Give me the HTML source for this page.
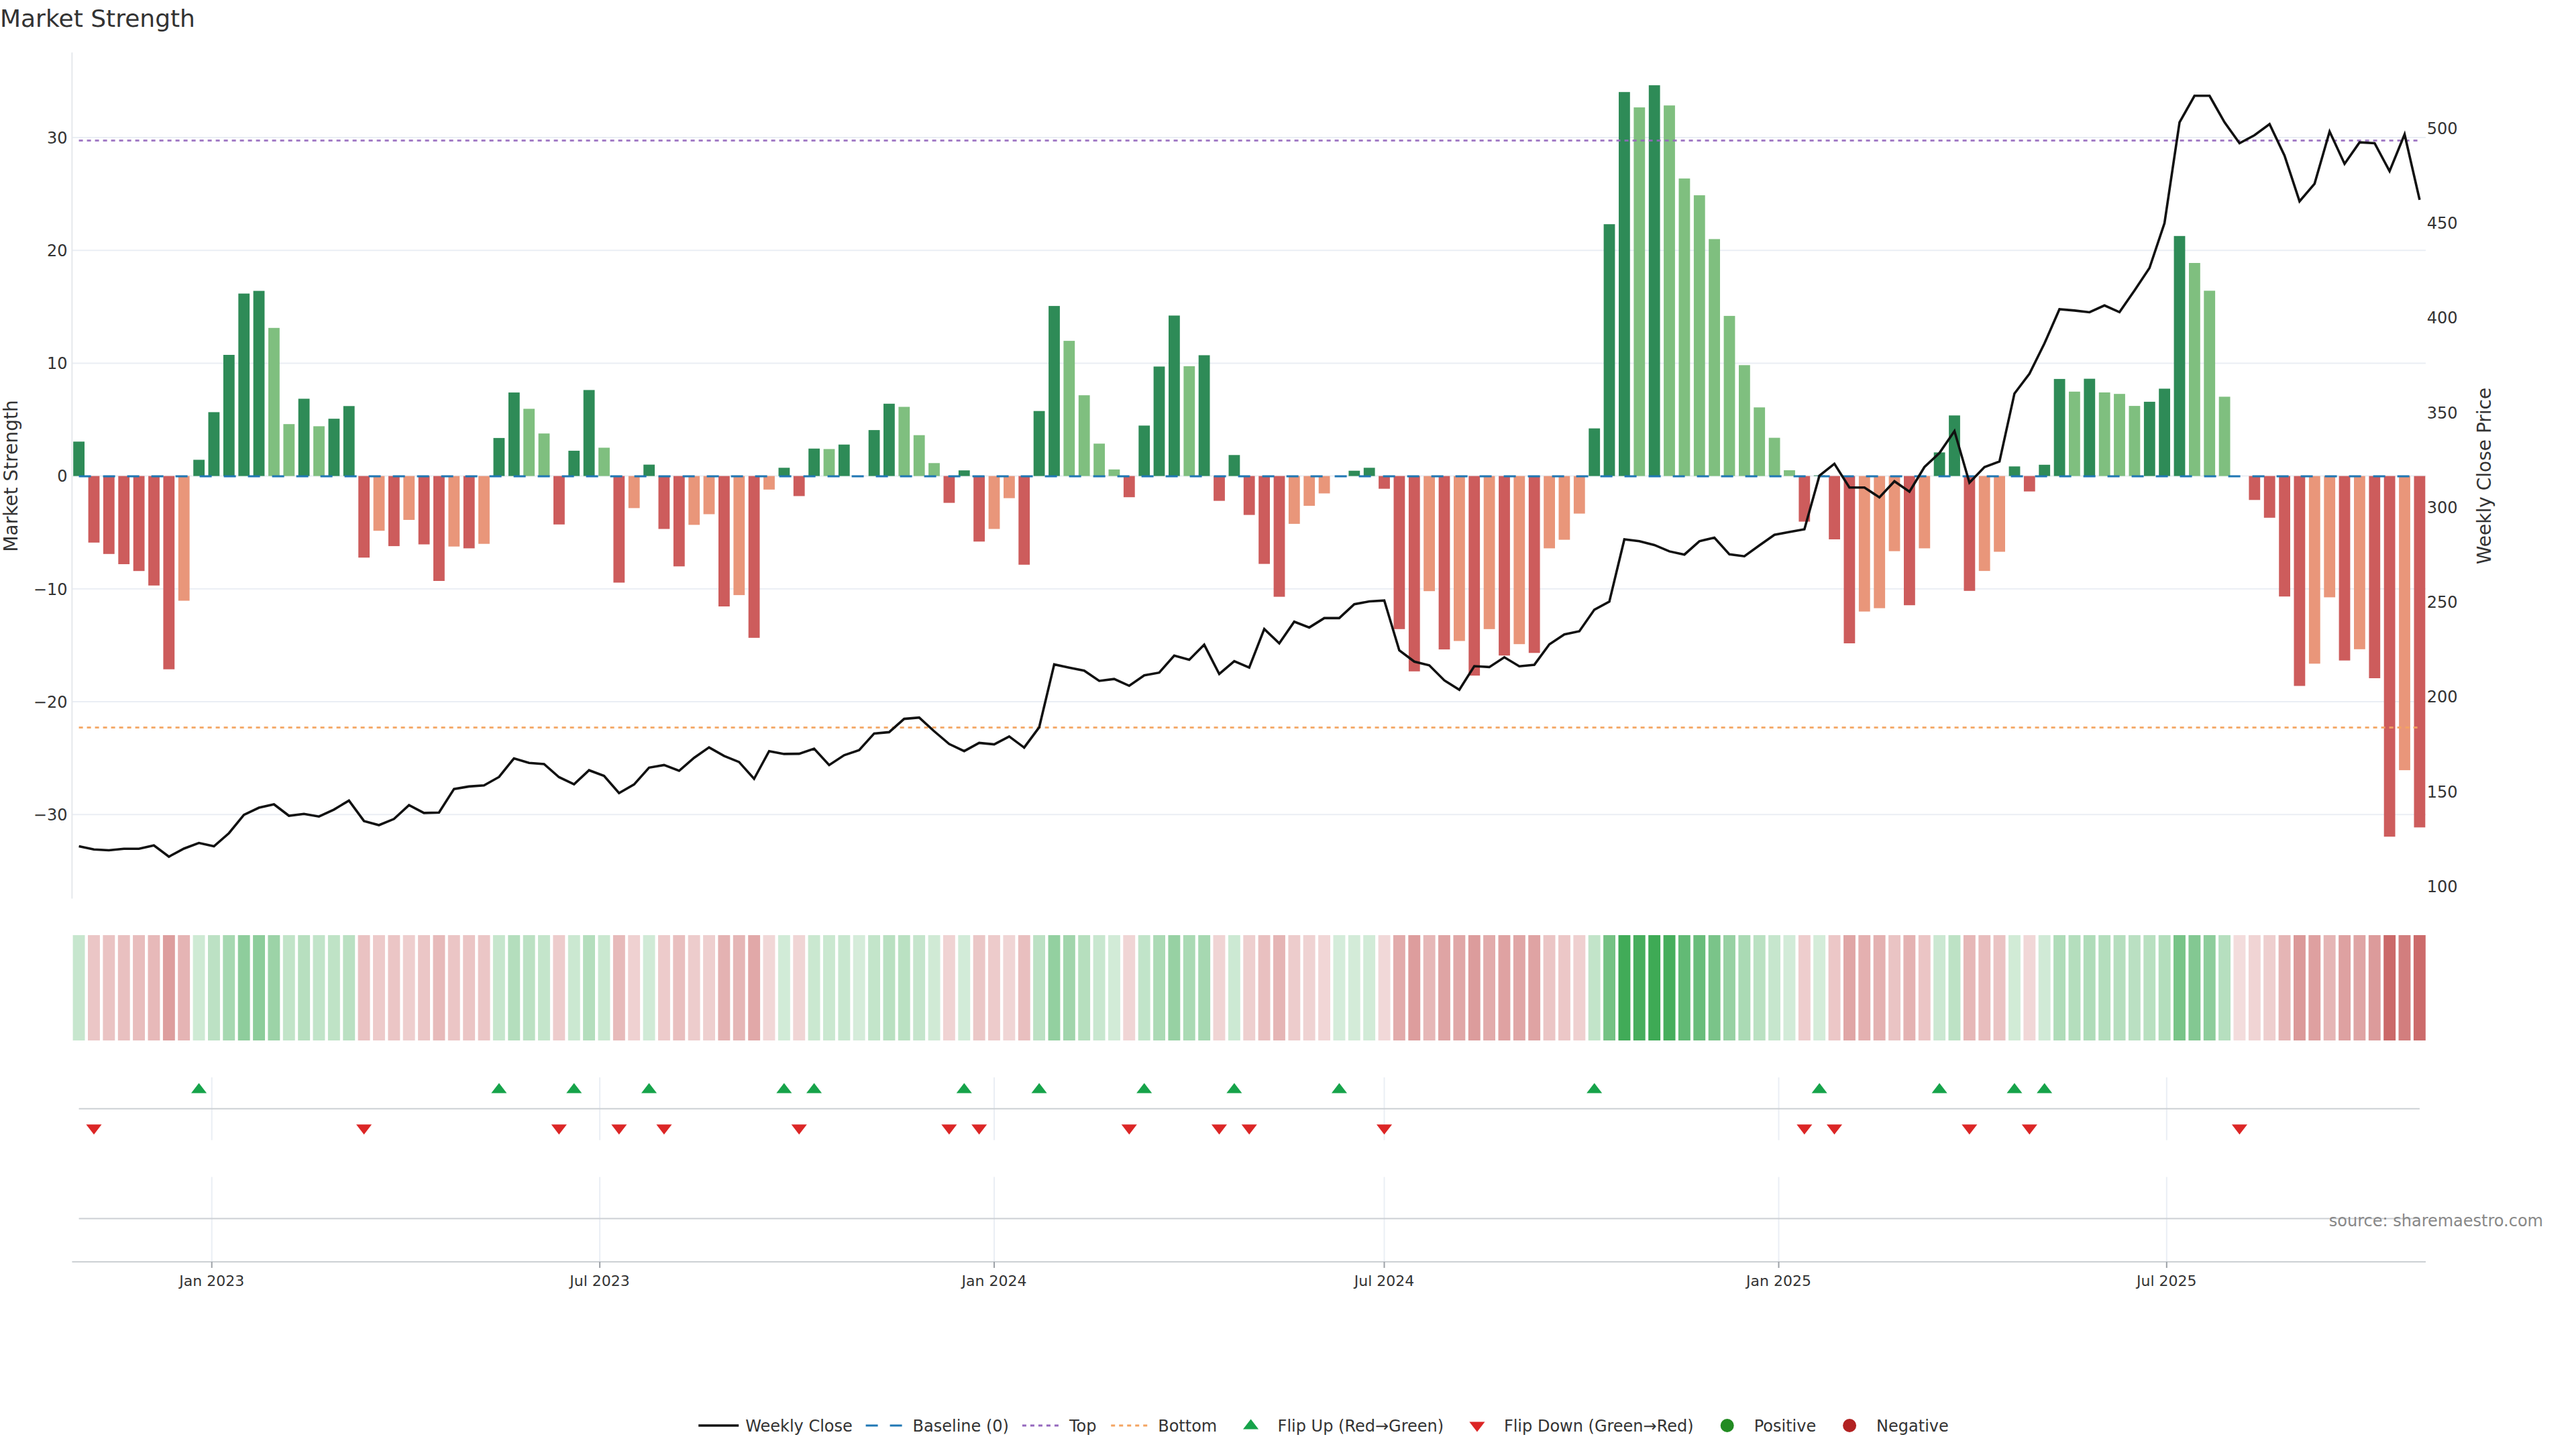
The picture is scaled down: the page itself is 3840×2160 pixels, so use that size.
<!DOCTYPE html>
<html lang="en"><head><meta charset="utf-8"><title>Market Strength</title>
<style>html,body{margin:0;padding:0;background:#fff;}body{width:3840px;height:2160px;overflow:hidden;}svg{display:block;}text{font-family:'DejaVu Sans','Liberation Sans',sans-serif;}</style></head><body>
<svg width="3840" height="2160" viewBox="0 0 3840 2160">
<rect width="3840" height="2160" fill="#fff"/>
<g stroke="#eaeef4" stroke-width="2">
<line x1="107.4" x2="3616" y1="205" y2="205"/>
<line x1="107.4" x2="3616" y1="373.2" y2="373.2"/>
<line x1="107.4" x2="3616" y1="541.4" y2="541.4"/>
<line x1="107.4" x2="3616" y1="709.6" y2="709.6"/>
<line x1="107.4" x2="3616" y1="877.8" y2="877.8"/>
<line x1="107.4" x2="3616" y1="1046" y2="1046"/>
<line x1="107.4" x2="3616" y1="1214.2" y2="1214.2"/>
</g>
<line x1="107.4" x2="107.4" y1="78.3" y2="1339.6" stroke="#e5e8ec" stroke-width="2"/>
<g>
<rect x="109.2" y="658.3" width="16.8" height="51.3" fill="#2e8b57"/>
<rect x="131.6" y="709.6" width="16.8" height="99.2" fill="#cd5c5c"/>
<rect x="153.9" y="709.6" width="16.8" height="116.2" fill="#cd5c5c"/>
<rect x="176.3" y="709.6" width="16.8" height="131.4" fill="#cd5c5c"/>
<rect x="198.7" y="709.6" width="16.8" height="141.6" fill="#cd5c5c"/>
<rect x="221.1" y="709.6" width="16.8" height="163.2" fill="#cd5c5c"/>
<rect x="243.4" y="709.6" width="16.8" height="288.1" fill="#cd5c5c"/>
<rect x="265.8" y="709.6" width="16.8" height="185.9" fill="#e9967a"/>
<rect x="288.2" y="685.4" width="16.8" height="24.2" fill="#2e8b57"/>
<rect x="310.5" y="614.4" width="16.8" height="95.2" fill="#2e8b57"/>
<rect x="332.9" y="529" width="16.8" height="180.6" fill="#2e8b57"/>
<rect x="355.3" y="437.6" width="16.8" height="272" fill="#2e8b57"/>
<rect x="377.6" y="433.6" width="16.8" height="276" fill="#2e8b57"/>
<rect x="400" y="488.8" width="16.8" height="220.8" fill="#7fbf7f"/>
<rect x="422.4" y="632.2" width="16.8" height="77.4" fill="#7fbf7f"/>
<rect x="444.7" y="594.4" width="16.8" height="115.2" fill="#2e8b57"/>
<rect x="467.1" y="635.4" width="16.8" height="74.2" fill="#7fbf7f"/>
<rect x="489.5" y="624.2" width="16.8" height="85.4" fill="#2e8b57"/>
<rect x="511.8" y="605.3" width="16.8" height="104.3" fill="#2e8b57"/>
<rect x="534.2" y="709.6" width="16.8" height="121.6" fill="#cd5c5c"/>
<rect x="556.6" y="709.6" width="16.8" height="81.6" fill="#e9967a"/>
<rect x="578.9" y="709.6" width="16.8" height="104.5" fill="#cd5c5c"/>
<rect x="601.3" y="709.6" width="16.8" height="65.4" fill="#e9967a"/>
<rect x="623.7" y="709.6" width="16.8" height="101.9" fill="#cd5c5c"/>
<rect x="646" y="709.6" width="16.8" height="156.4" fill="#cd5c5c"/>
<rect x="668.4" y="709.6" width="16.8" height="105.1" fill="#e9967a"/>
<rect x="690.8" y="709.6" width="16.8" height="107.8" fill="#cd5c5c"/>
<rect x="713.1" y="709.6" width="16.8" height="101.1" fill="#e9967a"/>
<rect x="735.5" y="652.9" width="16.8" height="56.7" fill="#2e8b57"/>
<rect x="757.9" y="585.1" width="16.8" height="124.5" fill="#2e8b57"/>
<rect x="780.2" y="609.4" width="16.8" height="100.2" fill="#7fbf7f"/>
<rect x="802.6" y="646.2" width="16.8" height="63.4" fill="#7fbf7f"/>
<rect x="825" y="709.6" width="16.8" height="72.2" fill="#cd5c5c"/>
<rect x="847.3" y="671.9" width="16.8" height="37.7" fill="#2e8b57"/>
<rect x="869.7" y="581.4" width="16.8" height="128.2" fill="#2e8b57"/>
<rect x="892.1" y="667.4" width="16.8" height="42.2" fill="#7fbf7f"/>
<rect x="914.4" y="709.6" width="16.8" height="158.9" fill="#cd5c5c"/>
<rect x="936.8" y="709.6" width="16.8" height="47.8" fill="#e9967a"/>
<rect x="959.2" y="692.6" width="16.8" height="17" fill="#2e8b57"/>
<rect x="981.5" y="709.6" width="16.8" height="78.9" fill="#cd5c5c"/>
<rect x="1003.9" y="709.6" width="16.8" height="134.7" fill="#cd5c5c"/>
<rect x="1026.3" y="709.6" width="16.8" height="72.8" fill="#e9967a"/>
<rect x="1048.6" y="709.6" width="16.8" height="56.9" fill="#e9967a"/>
<rect x="1071" y="709.6" width="16.8" height="194.4" fill="#cd5c5c"/>
<rect x="1093.4" y="709.6" width="16.8" height="177.5" fill="#e9967a"/>
<rect x="1115.7" y="709.6" width="16.8" height="241.2" fill="#cd5c5c"/>
<rect x="1138.1" y="709.6" width="16.8" height="20.2" fill="#e9967a"/>
<rect x="1160.5" y="697.3" width="16.8" height="12.3" fill="#2e8b57"/>
<rect x="1182.8" y="709.6" width="16.8" height="29.9" fill="#cd5c5c"/>
<rect x="1205.2" y="668.7" width="16.8" height="40.9" fill="#2e8b57"/>
<rect x="1227.6" y="669.4" width="16.8" height="40.2" fill="#7fbf7f"/>
<rect x="1249.9" y="662.7" width="16.8" height="46.9" fill="#2e8b57"/>
<rect x="1294.7" y="641.1" width="16.8" height="68.5" fill="#2e8b57"/>
<rect x="1317" y="601.8" width="16.8" height="107.8" fill="#2e8b57"/>
<rect x="1339.4" y="606.5" width="16.8" height="103.1" fill="#7fbf7f"/>
<rect x="1361.8" y="648.7" width="16.8" height="60.9" fill="#7fbf7f"/>
<rect x="1384.1" y="690.3" width="16.8" height="19.3" fill="#7fbf7f"/>
<rect x="1406.5" y="709.6" width="16.8" height="40" fill="#cd5c5c"/>
<rect x="1428.9" y="701.2" width="16.8" height="8.4" fill="#2e8b57"/>
<rect x="1451.2" y="709.6" width="16.8" height="97.7" fill="#cd5c5c"/>
<rect x="1473.6" y="709.6" width="16.8" height="78.9" fill="#e9967a"/>
<rect x="1496" y="709.6" width="16.8" height="33" fill="#e9967a"/>
<rect x="1518.3" y="709.6" width="16.8" height="132.2" fill="#cd5c5c"/>
<rect x="1540.7" y="612.7" width="16.8" height="96.9" fill="#2e8b57"/>
<rect x="1563.1" y="456.1" width="16.8" height="253.5" fill="#2e8b57"/>
<rect x="1585.4" y="508.1" width="16.8" height="201.5" fill="#7fbf7f"/>
<rect x="1607.8" y="589.2" width="16.8" height="120.4" fill="#7fbf7f"/>
<rect x="1630.2" y="661.3" width="16.8" height="48.3" fill="#7fbf7f"/>
<rect x="1652.5" y="699.8" width="16.8" height="9.8" fill="#7fbf7f"/>
<rect x="1674.9" y="709.6" width="16.8" height="31.6" fill="#cd5c5c"/>
<rect x="1697.3" y="634.4" width="16.8" height="75.2" fill="#2e8b57"/>
<rect x="1719.6" y="546.4" width="16.8" height="163.2" fill="#2e8b57"/>
<rect x="1742" y="470.4" width="16.8" height="239.2" fill="#2e8b57"/>
<rect x="1764.4" y="545.9" width="16.8" height="163.7" fill="#7fbf7f"/>
<rect x="1786.7" y="529.5" width="16.8" height="180.1" fill="#2e8b57"/>
<rect x="1809.1" y="709.6" width="16.8" height="37" fill="#cd5c5c"/>
<rect x="1831.5" y="678.3" width="16.8" height="31.3" fill="#2e8b57"/>
<rect x="1853.8" y="709.6" width="16.8" height="58" fill="#cd5c5c"/>
<rect x="1876.2" y="709.6" width="16.8" height="131" fill="#cd5c5c"/>
<rect x="1898.6" y="709.6" width="16.8" height="180" fill="#cd5c5c"/>
<rect x="1920.9" y="709.6" width="16.8" height="71.3" fill="#e9967a"/>
<rect x="1943.3" y="709.6" width="16.8" height="44.4" fill="#e9967a"/>
<rect x="1965.7" y="709.6" width="16.8" height="25.9" fill="#e9967a"/>
<rect x="2010.4" y="701.7" width="16.8" height="7.9" fill="#2e8b57"/>
<rect x="2032.8" y="697.3" width="16.8" height="12.3" fill="#2e8b57"/>
<rect x="2055.1" y="709.6" width="16.8" height="19" fill="#cd5c5c"/>
<rect x="2077.5" y="709.6" width="16.8" height="228.2" fill="#cd5c5c"/>
<rect x="2099.9" y="709.6" width="16.8" height="291.2" fill="#cd5c5c"/>
<rect x="2122.2" y="709.6" width="16.8" height="171.6" fill="#e9967a"/>
<rect x="2144.6" y="709.6" width="16.8" height="258.5" fill="#cd5c5c"/>
<rect x="2167" y="709.6" width="16.8" height="245.9" fill="#e9967a"/>
<rect x="2189.3" y="709.6" width="16.8" height="297.5" fill="#cd5c5c"/>
<rect x="2211.7" y="709.6" width="16.8" height="228.2" fill="#e9967a"/>
<rect x="2234.1" y="709.6" width="16.8" height="267.6" fill="#cd5c5c"/>
<rect x="2256.4" y="709.6" width="16.8" height="250.6" fill="#e9967a"/>
<rect x="2278.8" y="709.6" width="16.8" height="263.7" fill="#cd5c5c"/>
<rect x="2301.2" y="709.6" width="16.8" height="107.8" fill="#e9967a"/>
<rect x="2323.5" y="709.6" width="16.8" height="95" fill="#e9967a"/>
<rect x="2345.9" y="709.6" width="16.8" height="56" fill="#e9967a"/>
<rect x="2368.3" y="638.6" width="16.8" height="71" fill="#2e8b57"/>
<rect x="2390.6" y="334.2" width="16.8" height="375.4" fill="#2e8b57"/>
<rect x="2413" y="137.2" width="16.8" height="572.4" fill="#2e8b57"/>
<rect x="2435.4" y="160.1" width="16.8" height="549.5" fill="#7fbf7f"/>
<rect x="2457.8" y="127.1" width="16.8" height="582.5" fill="#2e8b57"/>
<rect x="2480.1" y="157.2" width="16.8" height="552.4" fill="#7fbf7f"/>
<rect x="2502.5" y="266.1" width="16.8" height="443.5" fill="#7fbf7f"/>
<rect x="2524.9" y="291.1" width="16.8" height="418.5" fill="#7fbf7f"/>
<rect x="2547.2" y="356.4" width="16.8" height="353.2" fill="#7fbf7f"/>
<rect x="2569.6" y="470.9" width="16.8" height="238.7" fill="#7fbf7f"/>
<rect x="2592" y="544.3" width="16.8" height="165.3" fill="#7fbf7f"/>
<rect x="2614.3" y="607.3" width="16.8" height="102.3" fill="#7fbf7f"/>
<rect x="2636.7" y="652.6" width="16.8" height="57" fill="#7fbf7f"/>
<rect x="2659.1" y="701" width="16.8" height="8.6" fill="#7fbf7f"/>
<rect x="2681.4" y="709.6" width="16.8" height="68" fill="#cd5c5c"/>
<rect x="2703.8" y="708.6" width="16.8" height="1" fill="#2e8b57"/>
<rect x="2726.2" y="709.6" width="16.8" height="94.4" fill="#cd5c5c"/>
<rect x="2748.5" y="709.6" width="16.8" height="249.4" fill="#cd5c5c"/>
<rect x="2770.9" y="709.6" width="16.8" height="202" fill="#e9967a"/>
<rect x="2793.3" y="709.6" width="16.8" height="197" fill="#e9967a"/>
<rect x="2815.6" y="709.6" width="16.8" height="112" fill="#e9967a"/>
<rect x="2838" y="709.6" width="16.8" height="192.6" fill="#cd5c5c"/>
<rect x="2860.4" y="709.6" width="16.8" height="107.8" fill="#e9967a"/>
<rect x="2882.7" y="674.4" width="16.8" height="35.2" fill="#2e8b57"/>
<rect x="2905.1" y="619.3" width="16.8" height="90.3" fill="#2e8b57"/>
<rect x="2927.5" y="709.6" width="16.8" height="171.2" fill="#cd5c5c"/>
<rect x="2949.8" y="709.6" width="16.8" height="141.5" fill="#e9967a"/>
<rect x="2972.2" y="709.6" width="16.8" height="112.9" fill="#e9967a"/>
<rect x="2994.6" y="695.3" width="16.8" height="14.3" fill="#2e8b57"/>
<rect x="3016.9" y="709.6" width="16.8" height="23" fill="#cd5c5c"/>
<rect x="3039.3" y="692.8" width="16.8" height="16.8" fill="#2e8b57"/>
<rect x="3061.7" y="564.9" width="16.8" height="144.7" fill="#2e8b57"/>
<rect x="3084" y="583.8" width="16.8" height="125.8" fill="#7fbf7f"/>
<rect x="3106.4" y="564.6" width="16.8" height="145" fill="#2e8b57"/>
<rect x="3128.8" y="585" width="16.8" height="124.6" fill="#7fbf7f"/>
<rect x="3151.1" y="587.2" width="16.8" height="122.4" fill="#7fbf7f"/>
<rect x="3173.5" y="605.1" width="16.8" height="104.5" fill="#7fbf7f"/>
<rect x="3195.9" y="598.9" width="16.8" height="110.7" fill="#2e8b57"/>
<rect x="3218.2" y="579.4" width="16.8" height="130.2" fill="#2e8b57"/>
<rect x="3240.6" y="351.8" width="16.8" height="357.8" fill="#2e8b57"/>
<rect x="3263" y="392" width="16.8" height="317.6" fill="#7fbf7f"/>
<rect x="3285.3" y="433.4" width="16.8" height="276.2" fill="#7fbf7f"/>
<rect x="3307.7" y="591.4" width="16.8" height="118.2" fill="#7fbf7f"/>
<rect x="3352.4" y="709.6" width="16.8" height="35.7" fill="#cd5c5c"/>
<rect x="3374.8" y="709.6" width="16.8" height="62.2" fill="#cd5c5c"/>
<rect x="3397.2" y="709.6" width="16.8" height="179.6" fill="#cd5c5c"/>
<rect x="3419.5" y="709.6" width="16.8" height="312.9" fill="#cd5c5c"/>
<rect x="3441.9" y="709.6" width="16.8" height="279.7" fill="#e9967a"/>
<rect x="3464.3" y="709.6" width="16.8" height="180.8" fill="#e9967a"/>
<rect x="3486.6" y="709.6" width="16.8" height="275" fill="#cd5c5c"/>
<rect x="3509" y="709.6" width="16.8" height="258.2" fill="#e9967a"/>
<rect x="3531.4" y="709.6" width="16.8" height="301.4" fill="#cd5c5c"/>
<rect x="3553.7" y="709.6" width="16.8" height="537.6" fill="#cd5c5c"/>
<rect x="3576.1" y="709.6" width="16.8" height="438.5" fill="#e9967a"/>
<rect x="3598.5" y="709.6" width="16.8" height="523.8" fill="#cd5c5c"/>
</g>
<line x1="117.6" x2="3606.9" y1="209.6" y2="209.6" stroke="#9467bd" stroke-width="3" stroke-dasharray="6 6" opacity="0.85"/>
<line x1="117.6" x2="3606.9" y1="1084.6" y2="1084.6" stroke="#f4a460" stroke-width="3" stroke-dasharray="6 6" opacity="0.92"/>
<line x1="117.6" x2="3606.9" y1="710.1" y2="710.1" stroke="#1f77b4" stroke-width="3" stroke-dasharray="18 18"/>
<polyline points="117.6,1261.6 140,1266.3 162.3,1267.5 184.7,1265.2 207.1,1265.2 229.4,1260.2 251.8,1277 274.2,1265 296.5,1256.6 318.9,1261.6 341.3,1242 363.6,1214.6 386,1204 408.4,1199 430.7,1216 453.1,1213.2 475.5,1217.2 497.8,1206.8 520.2,1193.4 542.6,1223.9 564.9,1230 587.3,1220.8 609.7,1200.1 632,1211.9 654.4,1211.3 676.8,1176.1 699.1,1172.4 721.5,1170.8 743.9,1158.2 766.2,1130.5 788.6,1137.2 811,1138.9 833.3,1158.5 855.7,1169.1 878.1,1148.2 900.4,1156.6 922.8,1182.3 945.2,1169.4 967.5,1144.3 989.9,1140.4 1012.3,1149 1034.6,1129.7 1057,1114.1 1079.4,1126.9 1101.7,1135.9 1124.1,1161 1146.5,1119.7 1168.8,1123.9 1191.2,1123.6 1213.6,1116 1236,1140.4 1258.3,1125.8 1280.7,1118.3 1303.1,1093.4 1325.4,1091.4 1347.8,1071.6 1370.2,1069.6 1392.5,1090 1414.9,1109.1 1437.3,1119.7 1459.6,1107.4 1482,1109.6 1504.4,1097.9 1526.7,1114.4 1549.1,1084.1 1571.5,990.4 1593.8,995.2 1616.2,999.7 1638.6,1015 1660.9,1012.2 1683.3,1022.3 1705.7,1006.7 1728,1002.7 1750.4,977.3 1772.8,983.5 1795.1,961.1 1817.5,1004.7 1839.9,985.7 1862.2,995.2 1884.6,937.6 1907,959.1 1929.3,926.7 1951.7,935.4 1974.1,921.4 1996.4,921.4 2018.8,900.7 2041.2,896.5 2063.5,895.1 2085.9,969.5 2108.3,986.3 2130.6,991.8 2153,1014.2 2175.4,1028.2 2197.7,993 2220.1,994.4 2242.5,979.8 2264.8,993.2 2287.2,991 2309.6,960.5 2331.9,945.7 2354.3,941 2376.7,908.8 2399,896.8 2421.4,804 2443.8,806.8 2466.1,812.4 2488.5,821.9 2510.9,826.7 2533.2,806.8 2555.6,801.5 2578,826.4 2600.3,829.2 2622.7,813 2645.1,797.3 2667.4,793.1 2689.8,788.9 2712.2,709 2734.5,691.3 2756.9,726.8 2779.3,726.8 2801.6,741.4 2824,717.4 2846.4,733 2868.7,696.2 2891.1,675.3 2913.5,642.6 2935.8,719.4 2958.2,696.3 2980.6,687.9 3002.9,586.7 3025.3,557.1 3047.7,511.8 3070,461 3092.4,462.9 3114.8,465.5 3137.1,455.3 3159.5,465.3 3181.9,433 3204.2,399.5 3226.6,332.5 3249,182.4 3271.3,142.8 3293.7,142.8 3316.1,182.4 3338.4,213.5 3360.8,201.5 3383.2,185 3405.5,231.9 3427.9,300.1 3450.3,273.8 3472.7,196.1 3495,244.2 3517.4,212.1 3539.8,213.5 3562.1,255.1 3584.5,200.3 3606.9,297.9" fill="none" stroke="#111" stroke-width="3.6" stroke-linejoin="miter" stroke-linecap="butt"/>
<g>
<rect x="108.6" y="1394" width="17.9" height="157" fill="#c7e6ce"/>
<rect x="131" y="1394" width="17.9" height="157" fill="#ebc6c6"/>
<rect x="153.4" y="1394" width="17.9" height="157" fill="#eac3c3"/>
<rect x="175.8" y="1394" width="17.9" height="157" fill="#e9c0c0"/>
<rect x="198.1" y="1394" width="17.9" height="157" fill="#e8bdbd"/>
<rect x="220.5" y="1394" width="17.9" height="157" fill="#e7b9b9"/>
<rect x="242.9" y="1394" width="17.9" height="157" fill="#dd9e9e"/>
<rect x="265.2" y="1394" width="17.9" height="157" fill="#e5b4b4"/>
<rect x="287.6" y="1394" width="17.9" height="157" fill="#ceead4"/>
<rect x="310" y="1394" width="17.9" height="157" fill="#bce1c4"/>
<rect x="332.3" y="1394" width="17.9" height="157" fill="#a6d8b1"/>
<rect x="354.7" y="1394" width="17.9" height="157" fill="#8ecd9c"/>
<rect x="377.1" y="1394" width="17.9" height="157" fill="#8dcd9b"/>
<rect x="399.4" y="1394" width="17.9" height="157" fill="#9cd3a7"/>
<rect x="421.8" y="1394" width="17.9" height="157" fill="#c1e4c8"/>
<rect x="444.2" y="1394" width="17.9" height="157" fill="#b7dfbf"/>
<rect x="466.5" y="1394" width="17.9" height="157" fill="#c1e4c9"/>
<rect x="488.9" y="1394" width="17.9" height="157" fill="#bfe3c6"/>
<rect x="511.3" y="1394" width="17.9" height="157" fill="#bae0c2"/>
<rect x="533.6" y="1394" width="17.9" height="157" fill="#eac2c2"/>
<rect x="556" y="1394" width="17.9" height="157" fill="#edcaca"/>
<rect x="578.4" y="1394" width="17.9" height="157" fill="#ebc5c5"/>
<rect x="600.7" y="1394" width="17.9" height="157" fill="#eecece"/>
<rect x="623.1" y="1394" width="17.9" height="157" fill="#ebc6c6"/>
<rect x="645.5" y="1394" width="17.9" height="157" fill="#e7baba"/>
<rect x="667.8" y="1394" width="17.9" height="157" fill="#ebc5c5"/>
<rect x="690.2" y="1394" width="17.9" height="157" fill="#ebc5c5"/>
<rect x="712.6" y="1394" width="17.9" height="157" fill="#ebc6c6"/>
<rect x="734.9" y="1394" width="17.9" height="157" fill="#c6e6cd"/>
<rect x="757.3" y="1394" width="17.9" height="157" fill="#b4debd"/>
<rect x="779.7" y="1394" width="17.9" height="157" fill="#bbe1c3"/>
<rect x="802" y="1394" width="17.9" height="157" fill="#c4e5cb"/>
<rect x="824.4" y="1394" width="17.9" height="157" fill="#edcccc"/>
<rect x="846.8" y="1394" width="17.9" height="157" fill="#cbe8d1"/>
<rect x="869.1" y="1394" width="17.9" height="157" fill="#b4debd"/>
<rect x="891.5" y="1394" width="17.9" height="157" fill="#cae8d0"/>
<rect x="913.9" y="1394" width="17.9" height="157" fill="#e7baba"/>
<rect x="936.2" y="1394" width="17.9" height="157" fill="#efd1d1"/>
<rect x="958.6" y="1394" width="17.9" height="157" fill="#d0ead6"/>
<rect x="981" y="1394" width="17.9" height="157" fill="#edcbcb"/>
<rect x="1003.3" y="1394" width="17.9" height="157" fill="#e9bfbf"/>
<rect x="1025.7" y="1394" width="17.9" height="157" fill="#edcccc"/>
<rect x="1048.1" y="1394" width="17.9" height="157" fill="#eecfcf"/>
<rect x="1070.4" y="1394" width="17.9" height="157" fill="#e4b2b2"/>
<rect x="1092.8" y="1394" width="17.9" height="157" fill="#e5b6b6"/>
<rect x="1115.2" y="1394" width="17.9" height="157" fill="#e1a8a8"/>
<rect x="1137.5" y="1394" width="17.9" height="157" fill="#f1d7d7"/>
<rect x="1159.9" y="1394" width="17.9" height="157" fill="#d1ebd7"/>
<rect x="1182.3" y="1394" width="17.9" height="157" fill="#f0d5d5"/>
<rect x="1204.6" y="1394" width="17.9" height="157" fill="#cae8d0"/>
<rect x="1227" y="1394" width="17.9" height="157" fill="#cae8d0"/>
<rect x="1249.4" y="1394" width="17.9" height="157" fill="#c8e7cf"/>
<rect x="1271.7" y="1394" width="17.9" height="157" fill="#d5ecda"/>
<rect x="1294.1" y="1394" width="17.9" height="157" fill="#c3e5ca"/>
<rect x="1316.5" y="1394" width="17.9" height="157" fill="#b9e0c1"/>
<rect x="1338.8" y="1394" width="17.9" height="157" fill="#bae1c2"/>
<rect x="1361.2" y="1394" width="17.9" height="157" fill="#c5e5cc"/>
<rect x="1383.6" y="1394" width="17.9" height="157" fill="#d0ead5"/>
<rect x="1405.9" y="1394" width="17.9" height="157" fill="#f0d3d3"/>
<rect x="1428.3" y="1394" width="17.9" height="157" fill="#d2ebd8"/>
<rect x="1450.7" y="1394" width="17.9" height="157" fill="#ebc7c7"/>
<rect x="1473" y="1394" width="17.9" height="157" fill="#edcbcb"/>
<rect x="1495.4" y="1394" width="17.9" height="157" fill="#f0d5d5"/>
<rect x="1517.8" y="1394" width="17.9" height="157" fill="#e9bfbf"/>
<rect x="1540.1" y="1394" width="17.9" height="157" fill="#bce1c4"/>
<rect x="1562.5" y="1394" width="17.9" height="157" fill="#93d0a0"/>
<rect x="1584.9" y="1394" width="17.9" height="157" fill="#a1d5ac"/>
<rect x="1607.2" y="1394" width="17.9" height="157" fill="#b6dfbe"/>
<rect x="1629.6" y="1394" width="17.9" height="157" fill="#c8e7cf"/>
<rect x="1652" y="1394" width="17.9" height="157" fill="#d2ebd7"/>
<rect x="1674.3" y="1394" width="17.9" height="157" fill="#f0d5d5"/>
<rect x="1696.7" y="1394" width="17.9" height="157" fill="#c1e4c9"/>
<rect x="1719.1" y="1394" width="17.9" height="157" fill="#abdab5"/>
<rect x="1741.4" y="1394" width="17.9" height="157" fill="#97d1a3"/>
<rect x="1763.8" y="1394" width="17.9" height="157" fill="#aadab4"/>
<rect x="1786.2" y="1394" width="17.9" height="157" fill="#a6d8b1"/>
<rect x="1808.5" y="1394" width="17.9" height="157" fill="#f0d4d4"/>
<rect x="1830.9" y="1394" width="17.9" height="157" fill="#cce9d3"/>
<rect x="1853.3" y="1394" width="17.9" height="157" fill="#eecfcf"/>
<rect x="1875.6" y="1394" width="17.9" height="157" fill="#e9c0c0"/>
<rect x="1898" y="1394" width="17.9" height="157" fill="#e5b5b5"/>
<rect x="1920.4" y="1394" width="17.9" height="157" fill="#edcccc"/>
<rect x="1942.7" y="1394" width="17.9" height="157" fill="#efd2d2"/>
<rect x="1965.1" y="1394" width="17.9" height="157" fill="#f1d6d6"/>
<rect x="1987.5" y="1394" width="17.9" height="157" fill="#d4ecda"/>
<rect x="2009.8" y="1394" width="17.9" height="157" fill="#d3ebd8"/>
<rect x="2032.2" y="1394" width="17.9" height="157" fill="#d1ebd7"/>
<rect x="2054.6" y="1394" width="17.9" height="157" fill="#f1d8d8"/>
<rect x="2076.9" y="1394" width="17.9" height="157" fill="#e2abab"/>
<rect x="2099.3" y="1394" width="17.9" height="157" fill="#dd9d9d"/>
<rect x="2121.7" y="1394" width="17.9" height="157" fill="#e6b7b7"/>
<rect x="2144" y="1394" width="17.9" height="157" fill="#dfa4a4"/>
<rect x="2166.4" y="1394" width="17.9" height="157" fill="#e0a7a7"/>
<rect x="2188.8" y="1394" width="17.9" height="157" fill="#dc9c9c"/>
<rect x="2211.1" y="1394" width="17.9" height="157" fill="#e2abab"/>
<rect x="2233.5" y="1394" width="17.9" height="157" fill="#dfa2a2"/>
<rect x="2255.9" y="1394" width="17.9" height="157" fill="#e0a6a6"/>
<rect x="2278.2" y="1394" width="17.9" height="157" fill="#dfa3a3"/>
<rect x="2300.6" y="1394" width="17.9" height="157" fill="#ebc5c5"/>
<rect x="2323" y="1394" width="17.9" height="157" fill="#ecc7c7"/>
<rect x="2345.4" y="1394" width="17.9" height="157" fill="#efd0d0"/>
<rect x="2367.7" y="1394" width="17.9" height="157" fill="#c2e4c9"/>
<rect x="2390.1" y="1394" width="17.9" height="157" fill="#74c284"/>
<rect x="2412.5" y="1394" width="17.9" height="157" fill="#41ab58"/>
<rect x="2434.8" y="1394" width="17.9" height="157" fill="#47ae5d"/>
<rect x="2457.2" y="1394" width="17.9" height="157" fill="#3eaa55"/>
<rect x="2479.6" y="1394" width="17.9" height="157" fill="#46ae5c"/>
<rect x="2501.9" y="1394" width="17.9" height="157" fill="#62ba75"/>
<rect x="2524.3" y="1394" width="17.9" height="157" fill="#69bd7b"/>
<rect x="2546.7" y="1394" width="17.9" height="157" fill="#7ac489"/>
<rect x="2569" y="1394" width="17.9" height="157" fill="#97d1a3"/>
<rect x="2591.4" y="1394" width="17.9" height="157" fill="#aadab4"/>
<rect x="2613.8" y="1394" width="17.9" height="157" fill="#bae1c2"/>
<rect x="2636.1" y="1394" width="17.9" height="157" fill="#c6e6cd"/>
<rect x="2658.5" y="1394" width="17.9" height="157" fill="#d2ebd8"/>
<rect x="2680.9" y="1394" width="17.9" height="157" fill="#eecdcd"/>
<rect x="2703.2" y="1394" width="17.9" height="157" fill="#d4ecd9"/>
<rect x="2725.6" y="1394" width="17.9" height="157" fill="#ecc7c7"/>
<rect x="2748" y="1394" width="17.9" height="157" fill="#e0a6a6"/>
<rect x="2770.3" y="1394" width="17.9" height="157" fill="#e4b0b0"/>
<rect x="2792.7" y="1394" width="17.9" height="157" fill="#e4b1b1"/>
<rect x="2815.1" y="1394" width="17.9" height="157" fill="#eac4c4"/>
<rect x="2837.4" y="1394" width="17.9" height="157" fill="#e4b2b2"/>
<rect x="2859.8" y="1394" width="17.9" height="157" fill="#ebc5c5"/>
<rect x="2882.2" y="1394" width="17.9" height="157" fill="#cbe8d2"/>
<rect x="2904.5" y="1394" width="17.9" height="157" fill="#bde2c5"/>
<rect x="2926.9" y="1394" width="17.9" height="157" fill="#e6b7b7"/>
<rect x="2949.3" y="1394" width="17.9" height="157" fill="#e8bdbd"/>
<rect x="2971.6" y="1394" width="17.9" height="157" fill="#eac3c3"/>
<rect x="2994" y="1394" width="17.9" height="157" fill="#d1ebd6"/>
<rect x="3016.4" y="1394" width="17.9" height="157" fill="#f1d7d7"/>
<rect x="3038.7" y="1394" width="17.9" height="157" fill="#d0ead6"/>
<rect x="3061.1" y="1394" width="17.9" height="157" fill="#afdcb9"/>
<rect x="3083.5" y="1394" width="17.9" height="157" fill="#b4debd"/>
<rect x="3105.8" y="1394" width="17.9" height="157" fill="#afdcb9"/>
<rect x="3128.2" y="1394" width="17.9" height="157" fill="#b4debd"/>
<rect x="3150.6" y="1394" width="17.9" height="157" fill="#b5debe"/>
<rect x="3172.9" y="1394" width="17.9" height="157" fill="#bae0c2"/>
<rect x="3195.3" y="1394" width="17.9" height="157" fill="#b8e0c0"/>
<rect x="3217.7" y="1394" width="17.9" height="157" fill="#b3debc"/>
<rect x="3240" y="1394" width="17.9" height="157" fill="#78c488"/>
<rect x="3262.4" y="1394" width="17.9" height="157" fill="#83c892"/>
<rect x="3284.8" y="1394" width="17.9" height="157" fill="#8dcd9b"/>
<rect x="3307.1" y="1394" width="17.9" height="157" fill="#b6dfbf"/>
<rect x="3329.5" y="1394" width="17.9" height="157" fill="#f3dcdc"/>
<rect x="3351.9" y="1394" width="17.9" height="157" fill="#f0d4d4"/>
<rect x="3374.2" y="1394" width="17.9" height="157" fill="#eecece"/>
<rect x="3396.6" y="1394" width="17.9" height="157" fill="#e5b5b5"/>
<rect x="3419" y="1394" width="17.9" height="157" fill="#db9999"/>
<rect x="3441.3" y="1394" width="17.9" height="157" fill="#dea0a0"/>
<rect x="3463.7" y="1394" width="17.9" height="157" fill="#e5b5b5"/>
<rect x="3486.1" y="1394" width="17.9" height="157" fill="#dea1a1"/>
<rect x="3508.4" y="1394" width="17.9" height="157" fill="#dfa4a4"/>
<rect x="3530.8" y="1394" width="17.9" height="157" fill="#dc9b9b"/>
<rect x="3553.2" y="1394" width="17.9" height="157" fill="#cb6969"/>
<rect x="3575.5" y="1394" width="17.9" height="157" fill="#d27e7e"/>
<rect x="3597.9" y="1394" width="17.9" height="157" fill="#cc6b6b"/>
</g>
<g stroke="#eaeef4" stroke-width="2">
<line x1="315.7" x2="315.7" y1="1606" y2="1699.6"/>
<line x1="315.7" x2="315.7" y1="1754.5" y2="1881"/>
<line x1="894.1" x2="894.1" y1="1606" y2="1699.6"/>
<line x1="894.1" x2="894.1" y1="1754.5" y2="1881"/>
<line x1="1482" x2="1482" y1="1606" y2="1699.6"/>
<line x1="1482" x2="1482" y1="1754.5" y2="1881"/>
<line x1="2063.5" x2="2063.5" y1="1606" y2="1699.6"/>
<line x1="2063.5" x2="2063.5" y1="1754.5" y2="1881"/>
<line x1="2651.5" x2="2651.5" y1="1606" y2="1699.6"/>
<line x1="2651.5" x2="2651.5" y1="1754.5" y2="1881"/>
<line x1="3229.8" x2="3229.8" y1="1606" y2="1699.6"/>
<line x1="3229.8" x2="3229.8" y1="1754.5" y2="1881"/>
</g>
<g stroke="#ccd0d4" stroke-width="2">
<line x1="117.6" x2="3606.9" y1="1652.8" y2="1652.8"/>
<line x1="117.6" x2="3606.9" y1="1816.6" y2="1816.6"/>
</g>
<line x1="107.4" x2="3616" y1="1881" y2="1881" stroke="#ccd0d4" stroke-width="2"/>
<g stroke="#9ca1a7" stroke-width="2">
<line x1="315.7" x2="315.7" y1="1881" y2="1890"/>
<line x1="894.1" x2="894.1" y1="1881" y2="1890"/>
<line x1="1482" x2="1482" y1="1881" y2="1890"/>
<line x1="2063.5" x2="2063.5" y1="1881" y2="1890"/>
<line x1="2651.5" x2="2651.5" y1="1881" y2="1890"/>
<line x1="3229.8" x2="3229.8" y1="1881" y2="1890"/>
</g>
<g fill="#16a34a">
<path d="M285,1629.5 L308.1,1629.5 L296.5,1614.5 Z"/>
<path d="M732.3,1629.5 L755.4,1629.5 L743.9,1614.5 Z"/>
<path d="M844.2,1629.5 L867.3,1629.5 L855.7,1614.5 Z"/>
<path d="M956,1629.5 L979.1,1629.5 L967.5,1614.5 Z"/>
<path d="M1157.3,1629.5 L1180.4,1629.5 L1168.8,1614.5 Z"/>
<path d="M1202,1629.5 L1225.1,1629.5 L1213.6,1614.5 Z"/>
<path d="M1425.7,1629.5 L1448.8,1629.5 L1437.3,1614.5 Z"/>
<path d="M1537.5,1629.5 L1560.6,1629.5 L1549.1,1614.5 Z"/>
<path d="M1694.1,1629.5 L1717.2,1629.5 L1705.7,1614.5 Z"/>
<path d="M1828.3,1629.5 L1851.4,1629.5 L1839.9,1614.5 Z"/>
<path d="M1984.9,1629.5 L2008,1629.5 L1996.4,1614.5 Z"/>
<path d="M2365.1,1629.5 L2388.2,1629.5 L2376.7,1614.5 Z"/>
<path d="M2700.6,1629.5 L2723.7,1629.5 L2712.2,1614.5 Z"/>
<path d="M2879.6,1629.5 L2902.7,1629.5 L2891.1,1614.5 Z"/>
<path d="M2991.4,1629.5 L3014.5,1629.5 L3002.9,1614.5 Z"/>
<path d="M3036.1,1629.5 L3059.2,1629.5 L3047.7,1614.5 Z"/>
</g>
<g fill="#dc2626">
<path d="M128.4,1676.2 L151.5,1676.2 L140,1691.2 Z"/>
<path d="M531,1676.2 L554.1,1676.2 L542.6,1691.2 Z"/>
<path d="M821.8,1676.2 L844.9,1676.2 L833.3,1691.2 Z"/>
<path d="M911.3,1676.2 L934.4,1676.2 L922.8,1691.2 Z"/>
<path d="M978.4,1676.2 L1001.5,1676.2 L989.9,1691.2 Z"/>
<path d="M1179.7,1676.2 L1202.8,1676.2 L1191.2,1691.2 Z"/>
<path d="M1403.3,1676.2 L1426.4,1676.2 L1414.9,1691.2 Z"/>
<path d="M1448.1,1676.2 L1471.2,1676.2 L1459.6,1691.2 Z"/>
<path d="M1671.7,1676.2 L1694.8,1676.2 L1683.3,1691.2 Z"/>
<path d="M1805.9,1676.2 L1829,1676.2 L1817.5,1691.2 Z"/>
<path d="M1850.7,1676.2 L1873.8,1676.2 L1862.2,1691.2 Z"/>
<path d="M2052,1676.2 L2075.1,1676.2 L2063.5,1691.2 Z"/>
<path d="M2678.3,1676.2 L2701.4,1676.2 L2689.8,1691.2 Z"/>
<path d="M2723,1676.2 L2746.1,1676.2 L2734.5,1691.2 Z"/>
<path d="M2924.3,1676.2 L2947.4,1676.2 L2935.8,1691.2 Z"/>
<path d="M3013.8,1676.2 L3036.9,1676.2 L3025.3,1691.2 Z"/>
<path d="M3326.9,1676.2 L3350,1676.2 L3338.4,1691.2 Z"/>
</g>
<g fill="#333">
<text x="0" y="40" font-size="36">Market Strength</text>
<g font-size="24" text-anchor="end">
<text x="100.5" y="213.7">30</text>
<text x="100.5" y="381.9">20</text>
<text x="100.5" y="550.1">10</text>
<text x="100.5" y="718.3">0</text>
<text x="100.5" y="886.5">−10</text>
<text x="100.5" y="1054.7">−20</text>
<text x="100.5" y="1222.9">−30</text>
</g>
<g font-size="24" text-anchor="start">
<text x="3617.8" y="199.7">500</text>
<text x="3617.8" y="340.9">450</text>
<text x="3617.8" y="482.2">400</text>
<text x="3617.8" y="623.5">350</text>
<text x="3617.8" y="764.7">300</text>
<text x="3617.8" y="906">250</text>
<text x="3617.8" y="1047.2">200</text>
<text x="3617.8" y="1188.5">150</text>
<text x="3617.8" y="1329.7">100</text>
</g>
<g font-size="22" text-anchor="middle">
<text x="315.7" y="1916.5">Jan 2023</text>
<text x="894.1" y="1916.5">Jul 2023</text>
<text x="1482" y="1916.5">Jan 2024</text>
<text x="2063.5" y="1916.5">Jul 2024</text>
<text x="2651.5" y="1916.5">Jan 2025</text>
<text x="3229.8" y="1916.5">Jul 2025</text>
</g>
<text font-size="28" text-anchor="middle" transform="translate(26,709.5) rotate(-90)">Market Strength</text>
<text font-size="28" text-anchor="middle" transform="translate(3713.3,709.5) rotate(-90)">Weekly Close Price</text>
</g>
<text x="3791" y="1827.6" font-size="24" text-anchor="end" fill="#888">source: sharemaestro.com</text>
<g font-size="24" fill="#333">
<line x1="1041.2" x2="1101.2" y1="2125" y2="2125" stroke="#111" stroke-width="3.6"/>
<text x="1111.2" y="2133.7">Weekly Close</text>
<line x1="1290.6" x2="1350.6" y1="2125" y2="2125" stroke="#1f77b4" stroke-width="3" stroke-dasharray="18 18"/>
<text x="1360.6" y="2133.7">Baseline (0)</text>
<line x1="1523.9" x2="1583.9" y1="2125" y2="2125" stroke="#9467bd" stroke-width="3" stroke-dasharray="6 6"/>
<text x="1593.9" y="2133.7">Top</text>
<line x1="1656.2" x2="1716.2" y1="2125" y2="2125" stroke="#f4a460" stroke-width="3" stroke-dasharray="6 6"/>
<text x="1726.2" y="2133.7">Bottom</text>
<path d="M1853,2130.5 L1876.1,2130.5 L1864.6,2115.5 Z" fill="#16a34a"/>
<text x="1904.6" y="2133.7">Flip Up (Red→Green)</text>
<path d="M2190.3,2119.5 L2213.5,2119.5 L2201.9,2134.5 Z" fill="#dc2626"/>
<text x="2241.9" y="2133.7">Flip Down (Green→Red)</text>
<circle cx="2574.7" cy="2125" r="10" fill="#228b22"/>
<text x="2614.7" y="2133.7">Positive</text>
<circle cx="2757.1" cy="2125" r="10" fill="#b22222"/>
<text x="2797.1" y="2133.7">Negative</text>
</g>
</svg></body></html>
